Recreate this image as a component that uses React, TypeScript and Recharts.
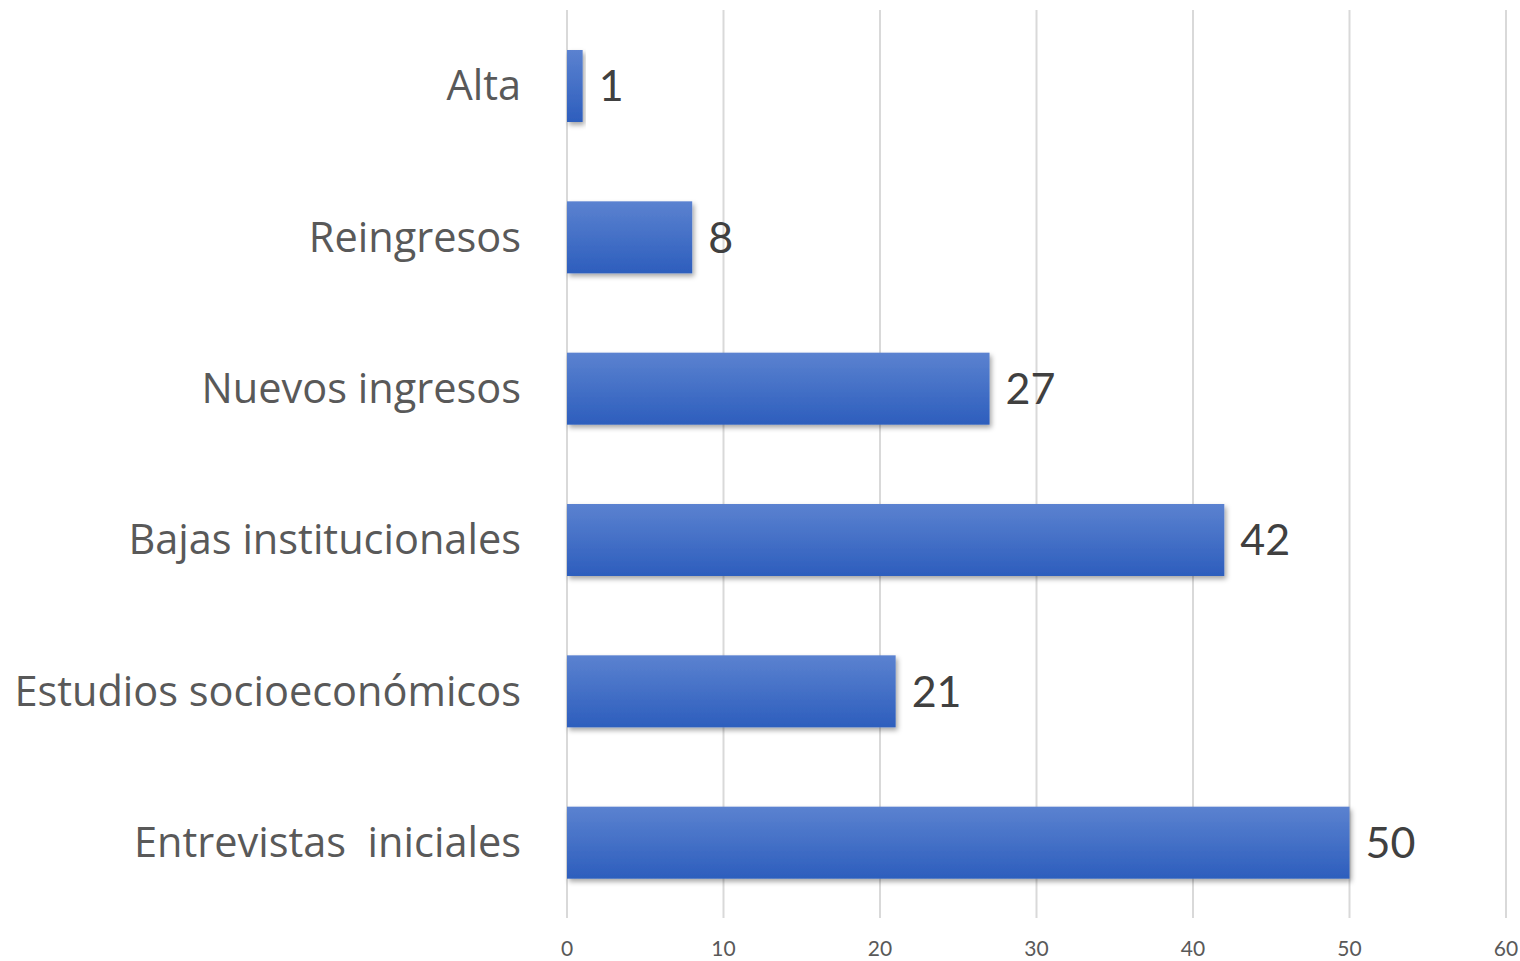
import { BarChart, Bar, XAxis, YAxis, CartesianGrid, LabelList } from 'recharts';

const categories = [
  'Alta',
  'Reingresos',
  'Nuevos ingresos',
  'Bajas institucionales',
  'Estudios socioeconómicos',
  'Entrevistas\u00a0 iniciales',
];
const values = [1, 8, 27, 42, 21, 50];
const xTicks = [0, 10, 20, 30, 40, 50, 60];

const data = categories.map((name, i) => ({ name, value: values[i] }));

const FONT = 'Lato, "Open Sans", sans-serif';
const CAT_FONT = '"Open Sans", Lato, sans-serif';

function ShadowBar(props: any) {
  const { x, y, width, height } = props;
  if (!width || width <= 0) return null;
  return (
    <rect
      x={x}
      y={y}
      width={width}
      height={height}
      fill="url(#barGrad)"
      filter="url(#barShadow)"
    />
  );
}

export default function App() {
  return (
    <div style={{ position: 'absolute', left: 0, top: 0, width: 1520, height: 961, background: '#fff' }}>
      <BarChart
        width={1520}
        height={961}
        data={data}
        layout="vertical"
        margin={{ top: 10, right: 14, bottom: 0, left: 0 }}
        barSize={72}
        style={{ fontFamily: FONT }}
      >
        <defs>
          <linearGradient id="barGrad" x1="0" y1="0" x2="0" y2="1">
            <stop offset="0%" stopColor="#5b82d0" />
            <stop offset="100%" stopColor="#2d5ebd" />
          </linearGradient>
          <filter id="barShadow" x="-10%" y="-20%" width="130%" height="160%">
            <feDropShadow dx="2" dy="3" stdDeviation="2.5" floodColor="#000" floodOpacity="0.35" />
          </filter>
        </defs>
        <CartesianGrid horizontal={false} stroke="#d9d9d9" strokeWidth={2} />
        <XAxis
          type="number"
          domain={[0, 60]}
          ticks={xTicks}
          axisLine={false}
          tickLine={false}
          tickSize={0}
          tickMargin={23}
          height={43}
          tick={{ fill: '#595959', fontSize: 21, fontFamily: FONT }}
          interval={0}
        />
        <YAxis
          type="category"
          dataKey="name"
          width={567}
          axisLine={false}
          tickLine={false}
          tickSize={0}
          tickMargin={46}
          interval={0}
          tick={{ fill: '#595959', fontSize: 41.5, fontFamily: CAT_FONT }}
        />
        <Bar dataKey="value" isAnimationActive={false} shape={ShadowBar}>
          <LabelList
            dataKey="value"
            position="right"
            offset={16}
            fill="#404040"
            fontSize={43}
            fontFamily={FONT}
          />
        </Bar>
      </BarChart>
    </div>
  );
}
